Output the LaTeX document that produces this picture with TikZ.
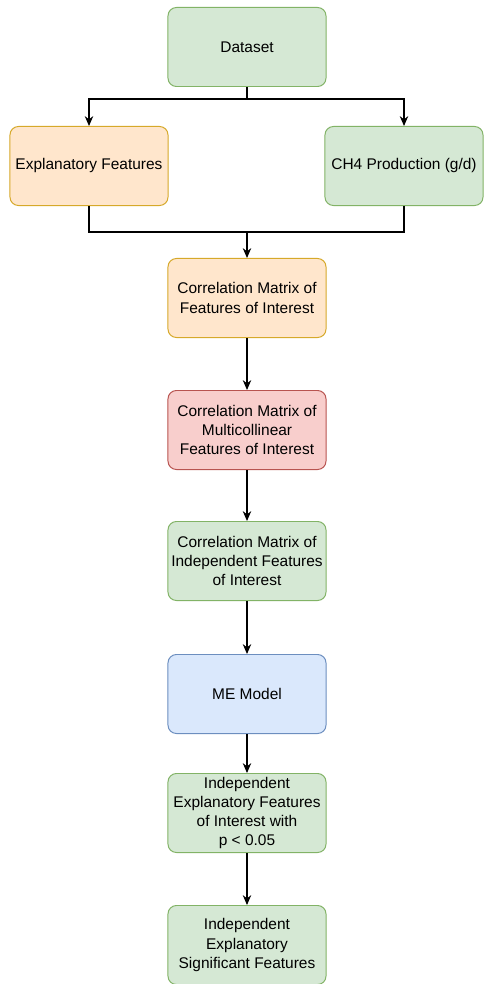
\documentclass[tikz,border=0pt]{standalone}
\usepackage{fontspec}
\setmainfont{Liberation Sans}
\usetikzlibrary{arrows.meta}

\definecolor{greenfill}{HTML}{D5E8D4}
\definecolor{greenline}{HTML}{82B366}
\definecolor{orangefill}{HTML}{FFE6CC}
\definecolor{orangeline}{HTML}{D6A92A}
\definecolor{redfill}{HTML}{F8CECC}
\definecolor{redline}{HTML}{B85450}
\definecolor{bluefill}{HTML}{DAE8FC}
\definecolor{blueline}{HTML}{6C8EBF}

\begin{document}
\begin{tikzpicture}[x=0.025cm,y=-0.025cm,
		box/.style={draw, rounded corners=6pt, line width=0.7pt, minimum width=3.95cm, minimum height=1.975cm, align=center, inner sep=2pt, font=\fontsize{11}{13.6}\selectfont},
		greenbox/.style={box, fill=greenfill, draw=greenline},
		orangebox/.style={box, fill=orangefill, draw=orangeline},
		redbox/.style={box, fill=redfill, draw=redline},
		bluebox/.style={box, fill=bluefill, draw=blueline},
		link/.style={line width=0.8pt},
		arr/.style={link, -{Stealth[length=7pt,width=6pt]}}]
		\useasboundingbox (0,0) rectangle (483,984);
		
		% boxes
		\node[greenbox] (data) at (247,47) {Dataset};
		\node[orangebox] (expl) at (89,166) {Explanatory Features};
		\node[greenbox] (ch4) at (404,166) {CH4 Production (g/d)};
		\node[orangebox] (corr) at (247,298) {Correlation Matrix of\\Features of Interest};
		\node[redbox] (multi) at (247,430) {Correlation Matrix of\\Multicollinear\\Features of Interest};
		\node[greenbox] (indep) at (247,561) {Correlation Matrix of\\Independent Features\\of Interest};
		\node[bluebox] (me) at (247,694) {ME Model};
		\node[greenbox] (pval) at (247,813) {Independent\\Explanatory Features\\of Interest with\\p < 0.05};
		\node[greenbox] (signif) at (247,945) {Independent\\Explanatory\\Significant Features};
		
		% split and merge
		\coordinate (split) at (247,99);
		\coordinate (merge) at (247,232);
		
		\draw[link] (data) -- (split);
		\draw[arr] (split) -| (expl);
		\draw[arr] (split) -| (ch4);
		
		\draw[link] (expl) |- (merge);
		\draw[link] (ch4) |- (merge);
		\draw[arr] (merge) -- (corr);
		
		% chain
		\draw[arr] (corr) -- (multi);
		\draw[arr] (multi) -- (indep);
		\draw[arr] (indep) -- (me);
		\draw[arr] (me) -- (pval);
		\draw[arr] (pval) -- (signif);
		
	\end{tikzpicture}
\end{document}
